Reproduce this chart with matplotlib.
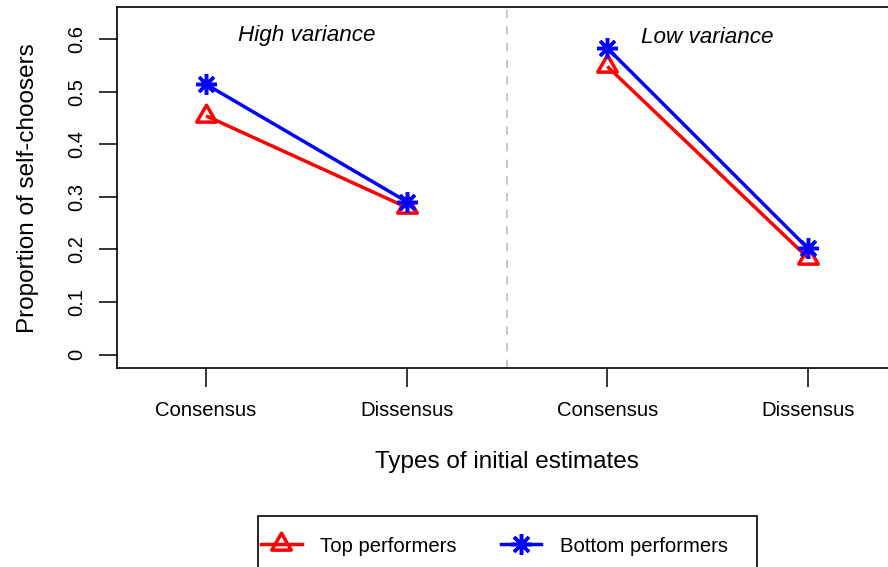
import numpy as np
import matplotlib
matplotlib.use('Agg')
import matplotlib.pyplot as plt
import matplotlib.patches as mpatches
from matplotlib.path import Path
from matplotlib.lines import Line2D

plt.rcParams['font.family'] = ['Liberation Sans', 'DejaVu Sans']

# proportion of self-choosers per panel (high variance, low variance)
x_pos = [1, 2, 3, 4]
x_labels = ['Consensus', 'Dissensus', 'Consensus', 'Dissensus']
top_perf = [0.454, 0.280, 0.548, 0.184]
bottom_perf = [0.514, 0.291, 0.583, 0.202]
y_ticks = [0, 0.1, 0.2, 0.3, 0.4, 0.5, 0.6]
y_tick_labels = ['0', '0.1', '0.2', '0.3', '0.4', '0.5', '0.6']
panel_titles = ['High variance', 'Low variance']

W, H = 888, 567
fig = plt.figure(figsize=(W / 100, H / 100), dpi=100)

ax_l, ax_r, ax_t, ax_b = 117, 897, 7, 368
ax = fig.add_axes([ax_l / W, 1 - ax_b / H, (ax_r - ax_l) / W, (ax_b - ax_t) / H])

# open triangle like R's pch 2 (centred on the circumcentre)
tri = Path([(-1, -0.577), (1, -0.577), (0, 1.155), (-1, -0.577)], closed=True)
star = (8, 2, 0)

lw = 2.5
tri_ms = 16.2
star_ms = 15
for i in (0, 2):
    xs = x_pos[i:i + 2]
    ax.plot(xs, top_perf[i:i + 2], color='#ff0000', lw=lw, marker=tri,
            ms=tri_ms, mew=lw, fillstyle='none', solid_capstyle='butt')
    ax.plot(xs, bottom_perf[i:i + 2], color='#0000ff', lw=lw, marker=star,
            ms=star_ms, mew=lw, solid_capstyle='butt')

ax.axvline(2.5, color='#bebebe', lw=1.2, ls=(0, (5, 5)))

ax.text(1.5, 0.597, panel_titles[0], ha='center', va='baseline',
        style='italic', fontsize=16.2)
ax.text(3.5, 0.593, panel_titles[1], ha='center', va='baseline',
        style='italic', fontsize=16.2)

ax.set_xlim(0.556, 4.444)
ax.set_ylim(-0.0254, 0.661)

ax.set_xticks(x_pos)
ax.set_xticklabels(x_labels, fontsize=14.6)
ax.set_yticks(y_ticks)
ax.set_yticklabels(y_tick_labels, fontsize=14.5, rotation=90, va='center')
ax.tick_params(axis='x', length=14, width=1.1, pad=10)
ax.tick_params(axis='y', length=13, width=1.1, pad=9)

for side in ('left', 'top', 'bottom'):
    ax.spines[side].set_linewidth(1.2)
ax.spines['right'].set_visible(False)

fig.text(28 / W, 1 - 188 / H, 'Proportion of self-choosers', rotation=90,
         ha='center', va='center', fontsize=17.5)
fig.text(507 / W, 1 - 462 / H, 'Types of initial estimates',
         ha='center', va='center', fontsize=17.5)

# legend with its own frame running off the bottom edge
handles = [
    Line2D([], [], color='#ff0000', lw=lw, marker=tri, ms=tri_ms, mew=lw,
           fillstyle='none'),
    Line2D([], [], color='#0000ff', lw=lw, marker=star, ms=star_ms, mew=lw),
]
fig.legend(handles, ['Top performers', 'Bottom performers'], ncol=2,
           loc='center left', bbox_to_anchor=(261 / W, 1 - 546 / H),
           frameon=False, fontsize=14.6, handlelength=2.0,
           handletextpad=0.9, columnspacing=2.2, borderpad=0,
           borderaxespad=0)
fig.patches.append(mpatches.Rectangle(
    (258 / W, -0.05), (757 - 258) / W, (1 - 516 / H) + 0.05,
    transform=fig.transFigure, fill=False, edgecolor='black', lw=1.2))

fig.savefig('out.png', dpi=100)
